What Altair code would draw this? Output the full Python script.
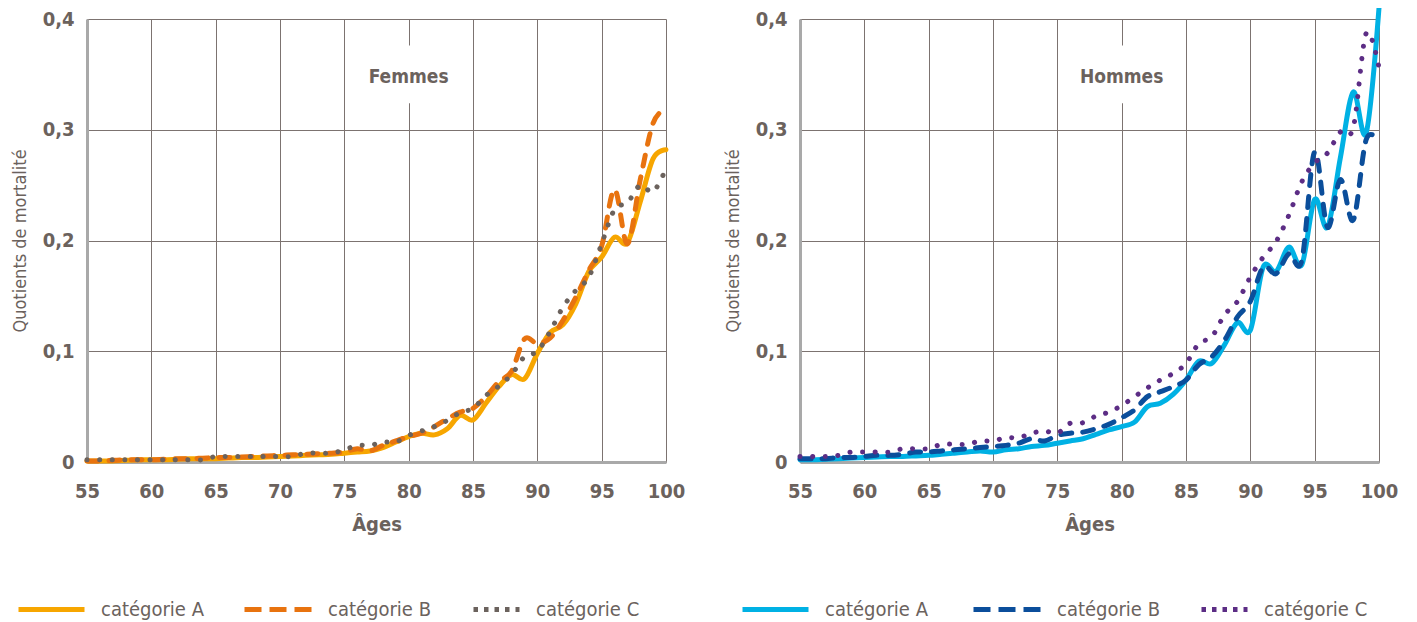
import altair as alt
import pandas as pd

# ---------------- data ----------------
ages = list(range(55, 101))
x_ticks = [55, 60, 65, 70, 75, 80, 85, 90, 95, 100]
y_ticks = [0, 0.1, 0.2, 0.3, 0.4]
categories = ["catégorie A", "catégorie B", "catégorie C"]
panel_titles = ["Femmes", "Hommes"]
x_title = "Âges"
y_title = "Quotients de mortalité"

fem_A = [0.001, 0.001, 0.001, 0.0015, 0.002, 0.002, 0.002, 0.0025, 0.003, 0.003,
         0.003, 0.0035, 0.004, 0.004, 0.0045, 0.005, 0.0055, 0.006, 0.0065, 0.007,
         0.008, 0.009, 0.010, 0.013, 0.018, 0.023, 0.026, 0.0245, 0.030, 0.042,
         0.038, 0.053, 0.068, 0.079, 0.075, 0.098, 0.117, 0.124, 0.143, 0.172,
         0.185, 0.203, 0.198, 0.235, 0.274, 0.282]
fem_B = [0.001, 0.001, 0.0015, 0.002, 0.002, 0.002, 0.0025, 0.003, 0.003, 0.0035,
         0.004, 0.004, 0.0045, 0.005, 0.0055, 0.006, 0.0065, 0.007, 0.0075, 0.008,
         0.009, 0.012, 0.010, 0.015, 0.019, 0.023, 0.026, 0.032, 0.039, 0.045,
         0.0485, 0.059, 0.0725, 0.082, 0.111, 0.107, 0.112, 0.128, 0.149, 0.173,
         0.195, 0.246, 0.197, 0.255, 0.306, 0.319]
fem_C = [0.002, 0.002, 0.002, 0.002, 0.002, 0.002, 0.002, 0.002, 0.002, 0.002,
         0.005, 0.005, 0.005, 0.005, 0.005, 0.005, 0.005, 0.008, 0.008, 0.008,
         0.011, 0.015, 0.015, 0.018, 0.018, 0.024, 0.028, 0.032, 0.0375, 0.0445,
         0.0485, 0.060, 0.0685, 0.079, 0.095, 0.100, 0.118, 0.140, 0.155, 0.167,
         0.197, 0.228, 0.234, 0.250, 0.244, 0.265]

hom_A = [0.002, 0.002, 0.0025, 0.003, 0.0035, 0.004, 0.0045, 0.005, 0.005, 0.0055,
         0.006, 0.007, 0.008, 0.009, 0.010, 0.009, 0.011, 0.012, 0.014, 0.015,
         0.017, 0.019, 0.021, 0.025, 0.029, 0.032, 0.036, 0.050, 0.053, 0.061,
         0.074, 0.091, 0.089, 0.106, 0.126, 0.119, 0.176, 0.172, 0.194, 0.178,
         0.237, 0.212, 0.275, 0.334, 0.297, 0.410]
hom_B = [0.003, 0.003, 0.003, 0.004, 0.004, 0.005, 0.006, 0.006, 0.007, 0.009,
         0.009, 0.010, 0.011, 0.012, 0.013, 0.014, 0.015, 0.017, 0.021, 0.019,
         0.024, 0.026, 0.027, 0.030, 0.034, 0.040, 0.047, 0.059, 0.0635, 0.068,
         0.074, 0.088, 0.095, 0.110, 0.131, 0.145, 0.176, 0.170, 0.188, 0.182,
         0.280, 0.212, 0.255, 0.2185, 0.291, 0.289]
hom_C = [0.005, 0.005, 0.005, 0.006, 0.009, 0.009, 0.009, 0.009, 0.012, 0.012,
         0.012, 0.016, 0.016, 0.016, 0.019, 0.019, 0.022, 0.022, 0.026, 0.028,
         0.026, 0.035, 0.0355, 0.0415, 0.045, 0.051, 0.059, 0.067, 0.074, 0.080,
         0.089, 0.107, 0.113, 0.133, 0.145, 0.167, 0.185, 0.199, 0.223, 0.253,
         0.270, 0.279, 0.298, 0.302, 0.387, 0.356]

# ---------------- style ----------------
FONT = "DejaVu Sans Condensed, DejaVu Sans, sans-serif"
TEXT = "#6b625d"
GRID = "#7c7370"
DOMAIN = "#a9a9a9"
fem_colors = ["#f7a600", "#e8730f", "#6b625d"]
hom_colors = ["#00b1e4", "#0b4e9b", "#5c2d85"]

W, H = 579, 443
LEG_CENTER = 588  # legend row centre, relative to plot top


def panel(title, series, colors, legend_xs):
    x_enc = alt.X(
        "age:Q",
        scale=alt.Scale(domain=[55, 100], nice=False, zero=False),
        axis=alt.Axis(values=x_ticks, title=x_title, labelFlush=False,
                      labelPadding=19, titlePadding=13, titleFontSize=20,
                      titleFontWeight="bold"),
    )
    y_enc = alt.Y(
        "q:Q",
        scale=alt.Scale(domain=[0, 0.4], nice=False),
        axis=alt.Axis(values=y_ticks, title=y_title, labelPadding=13,
                      titlePadding=13, titleFontSize=18, titleFontWeight="normal",
                      labelExpr="datum.value == 0 ? '0' : replace(format(datum.value, '.1f'), '.', ',')"),
    )
    styles = [
        dict(mark={}, size=66, legend=dict(symbolType="stroke")),
        dict(mark=dict(strokeDash=[11, 11]), size=67,
             legend=dict(symbolType="stroke", symbolDash=[17, 8])),
        dict(mark=dict(strokeDash=[0.1, 12.5]), size=46,
             legend=dict(symbolType="stroke", symbolDash=[4.5, 6])),
    ]
    layers = []
    for i, cat in enumerate(categories):
        df = pd.DataFrame({"age": ages, "q": series[i], "cat": cat})
        st = styles[i]
        leg = alt.Legend(
            title=None, orient="none", legendX=legend_xs[i],
            legendY=LEG_CENTER - st["size"] / 2, symbolSize=st["size"] ** 2,
            symbolStrokeWidth=5, labelFont=FONT, labelFontSize=20,
            labelColor=TEXT, labelOffset=14, padding=0, **st["legend"],
        )
        line = alt.Chart(df).mark_line(
            strokeWidth=5, interpolate="cardinal", strokeCap="round",
            strokeJoin="round", **st["mark"]
        ).encode(
            x=x_enc, y=y_enc,
            color=alt.Color("cat:N", scale=alt.Scale(domain=[cat], range=[colors[i]]),
                            legend=leg),
        )
        layers.append(line)

    box_df = pd.DataFrame({"age": [77.2], "age2": [82.8], "q": [0.376], "q2": [0.324]})
    box = alt.Chart(box_df).mark_rect(color="white").encode(
        x=x_enc, x2="age2:Q", y=y_enc, y2="q2:Q")
    lab_df = pd.DataFrame({"age": [80], "q": [0.3475], "label": [title]})
    lab = alt.Chart(lab_df).mark_text(
        font=FONT, fontSize=19, fontWeight="bold", color=TEXT
    ).encode(x=x_enc, y=y_enc, text="label:N")

    return alt.layer(box, lab, *layers).resolve_scale(color="independent").properties(
        width=W, height=H)


left = panel(panel_titles[0], [fem_A, fem_B, fem_C], fem_colors, [-71, 155, 384])
right = panel(panel_titles[1], [hom_A, hom_B, hom_C], hom_colors, [-60, 171, 399])

chart = alt.hconcat(left, right, spacing=39).resolve_scale(color="independent").properties(
    padding={"left": 3, "top": -3, "right": 0, "bottom": 0}
).configure_view(stroke=None).configure_axis(
    domainColor=DOMAIN, domainWidth=3, gridColor=GRID, gridWidth=1, ticks=False,
    labelFont=FONT, labelFontSize=20, labelFontWeight="bold", labelColor=TEXT,
    titleFont=FONT, titleColor=TEXT,
)

chart.save("out.html", embed_options={"renderer": "svg", "actions": False})
